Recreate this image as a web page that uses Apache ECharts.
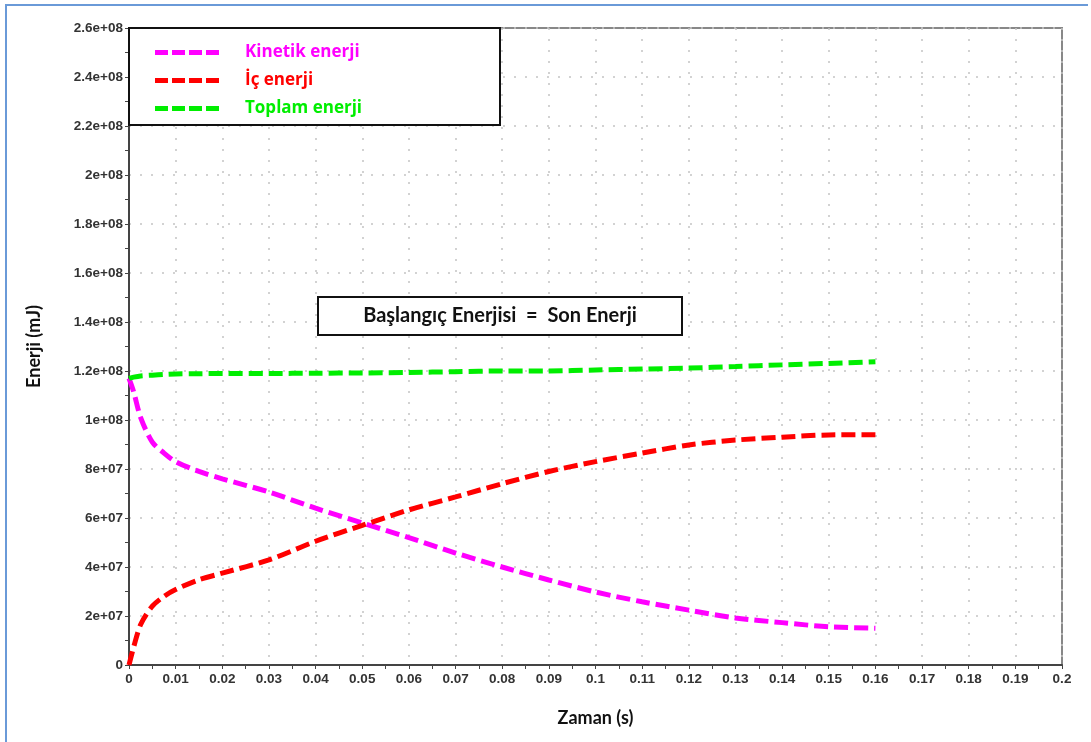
<!DOCTYPE html>
<html>
<head>
<meta charset="utf-8">
<script src="https://cdn.jsdelivr.net/npm/echarts@6/dist/echarts.min.js"></script>
<style>
  html, body { margin: 0; padding: 0; background: #fff; }
  #chart { width: 1091px; height: 742px; }
</style>
</head>
<body>
<div id="chart"></div>
<script>
// zaman (s)
const zaman = [0, 0.001, 0.0025, 0.005, 0.0075, 0.01, 0.015, 0.02, 0.03, 0.04, 0.05,
  0.06, 0.07, 0.08, 0.09, 0.1, 0.11, 0.12, 0.13, 0.14, 0.15, 0.16]

// enerji (mJ)
const kinetik = [1.17e8, 1.115e8, 1.01e8, 9.1e7, 8.65e7, 8.3e7, 7.9e7, 7.6e7, 7.06e7, 6.4e7, 5.8e7,
  5.2e7, 4.57e7, 4.0e7, 3.47e7, 2.98e7, 2.58e7, 2.24e7, 1.92e7, 1.73e7, 1.56e7, 1.5e7]
const ic = [0, 7.3e6, 1.65e7, 2.4e7, 2.8e7, 3.08e7, 3.48e7, 3.75e7, 4.29e7, 5.05e7, 5.7e7,
  6.33e7, 6.86e7, 7.4e7, 7.9e7, 8.3e7, 8.65e7, 8.98e7, 9.18e7, 9.3e7, 9.39e7, 9.4e7]
const toplam = [1.17e8, 1.175e8, 1.18e8, 1.183e8, 1.186e8, 1.188e8, 1.189e8, 1.19e8, 1.19e8, 1.191e8, 1.192e8,
  1.194e8, 1.197e8, 1.2e8, 1.2e8, 1.204e8, 1.208e8, 1.212e8, 1.218e8, 1.225e8, 1.231e8, 1.238e8]

const seriesNames = ['Kinetik enerji', 'İç enerji', 'Toplam enerji']
const seriesColors = ['#ff00ff', '#ff0000', '#00ee00']

// dört parçalı kesik çizgi (lejant simgesi)
const dashIcon = 'path://M0,0h13v5h-13z M17,0h13v5h-13z M34,0h13v5h-13z M51,0h13v5h-13z'

function sci(v) {
  if (v === 0) return '0'
  const e = Math.floor(Math.log10(Math.abs(v)) + 1e-9)
  const m = +(v / Math.pow(10, e)).toFixed(2)
  return m + 'e+' + String(e).padStart(2, '0')
}

const tickFont = { fontFamily: 'Liberation Sans', fontWeight: 'bold', fontSize: 13.5, color: '#333' }
const nameFont = { fontFamily: 'Lato', fontWeight: 'bold', fontSize: 18, color: '#111' }

function line(name, data, i) {
  return {
    name,
    type: 'line',
    data: zaman.map((t, k) => [t, data[k]]),
    smooth: 0.3,
    symbol: 'none',
    z: 3,
    lineStyle: { color: seriesColors[i], width: 5, type: [14, 6] },
    itemStyle: { color: seriesColors[i] },
  }
}

const chart = echarts.init(document.getElementById('chart'))
chart.setOption({
  animation: false,
  grid: { left: 129, right: 29, top: 28, bottom: 77, show: true, borderColor: '#888', borderWidth: 2 },
  xAxis: {
    type: 'value',
    min: 0,
    max: 0.2,
    interval: 0.01,
    name: 'Zaman (s)',
    nameLocation: 'middle',
    nameGap: 44,
    nameTextStyle: nameFont,
    axisLine: { lineStyle: { color: '#444', width: 2 } },
    axisTick: { show: true, length: 4, lineStyle: { color: '#444' } },
    minorTick: { show: true, splitNumber: 2, length: 4, lineStyle: { color: '#444' } },
    axisLabel: { ...tickFont, margin: 7, formatter: v => String(+v.toFixed(2)) },
    splitLine: { show: true, lineStyle: { color: '#c4c4c4', type: [2, 9], width: 1.5 } },
  },
  yAxis: {
    type: 'value',
    min: 0,
    max: 2.6e8,
    interval: 2e7,
    name: 'Enerji (mJ)',
    nameLocation: 'middle',
    nameGap: 86,
    nameTextStyle: nameFont,
    axisLine: { show: true, lineStyle: { color: '#444', width: 2 } },
    axisTick: { show: true, length: 4, lineStyle: { color: '#444' } },
    minorTick: { show: true, splitNumber: 2, length: 4, lineStyle: { color: '#444' } },
    axisLabel: { ...tickFont, margin: 6, formatter: sci },
    splitLine: { show: true, lineStyle: { color: '#c4c4c4', type: [2, 9], width: 1.5 } },
  },
  legend: {
    orient: 'vertical',
    left: 150,
    top: 39,
    z: 10,
    icon: dashIcon,
    itemWidth: 66,
    itemHeight: 5,
    itemGap: 11,
    data: seriesNames.map((n, i) => ({
      name: n,
      textStyle: { color: seriesColors[i] },
    })),
    textStyle: { fontFamily: 'Open Sans', fontWeight: 'bold', fontSize: 17, padding: [0, 0, 0, 20] },
  },
  graphic: [
    {
      type: 'rect', z: 8,
      shape: { x: 129, y: 28, width: 371, height: 97 },
      style: { fill: '#fff', stroke: '#111', lineWidth: 2 },
    },
    {
      type: 'rect', z: 8,
      shape: { x: 318, y: 297, width: 364, height: 38 },
      style: { fill: '#fff', stroke: '#111', lineWidth: 2 },
    },
    {
      type: 'text', z: 9,
      x: 500, y: 316,
      style: {
        text: 'Başlangıç Enerjisi  =  Son Enerji',
        fontFamily: 'Lato', fontWeight: 'bold', fontSize: 20, fill: '#111',
        align: 'center', verticalAlign: 'middle',
      },
    },
    {
      type: 'polyline', z: 9,
      shape: { points: [[6, 742], [6, 5], [1088, 5]] },
      style: { stroke: '#6a9ad8', lineWidth: 2, fill: null },
    },
  ],
  series: [
    line(seriesNames[0], kinetik, 0),
    line(seriesNames[1], ic, 1),
    line(seriesNames[2], toplam, 2),
  ],
})
</script>
</body>
</html>
